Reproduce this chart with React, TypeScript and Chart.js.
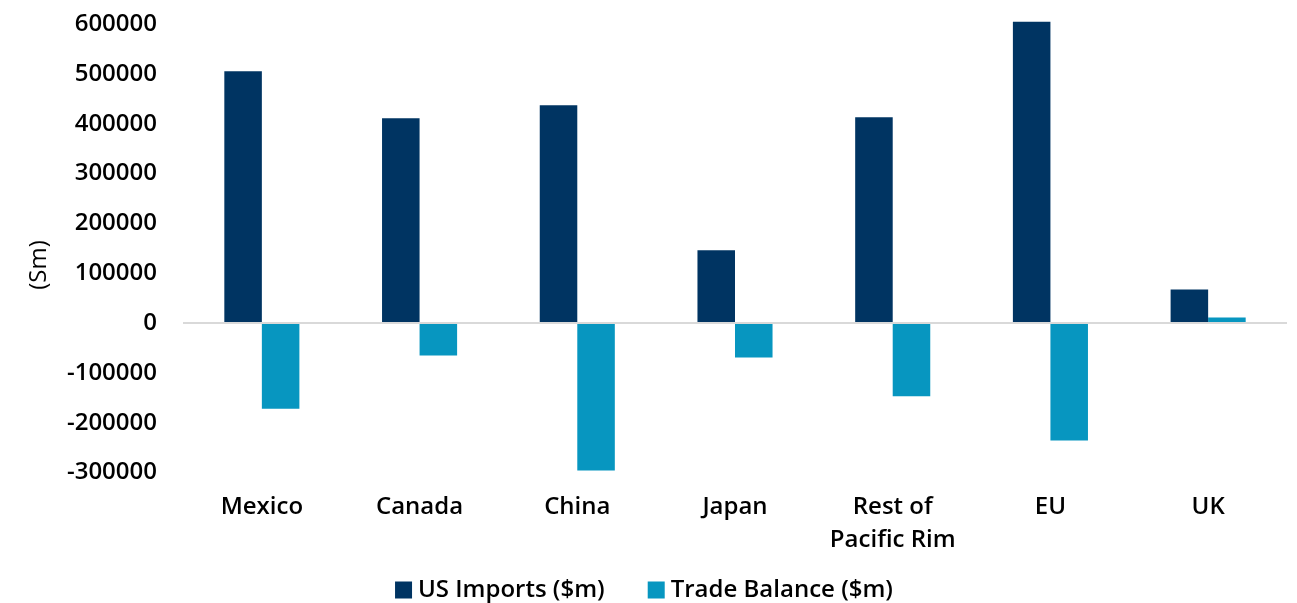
import React, { useEffect, useRef } from "react";
import { Chart, registerables } from "chart.js";

Chart.register(...registerables);

const categories: (string | string[])[] = ["Mexico", "Canada", "China", "Japan", ["Rest of", "Pacific Rim"], "EU", "UK"];
const usImports = [505000, 411000, 437000, 146000, 413000, 604500, 67000];
const tradeBalance = [-172000, -65000, -296000, -69000, -147000, -236000, 11000];
const seriesNames = ["US Imports ($m)", "Trade Balance ($m)"];
const seriesColors = ["#003462", "#0796c0"];
const yTitle = "(Sm)";

const FONT = "'Open Sans', sans-serif";

const customText = {
  id: "customText",
  afterDraw(chart: any) {
    const ctx = chart.ctx as CanvasRenderingContext2D;
    ctx.save();
    // y axis title
    ctx.font = `400 24px ${FONT}`;
    ctx.fillStyle = "#000";
    ctx.textAlign = "center";
    ctx.textBaseline = "middle";
    ctx.translate(39, 265);
    ctx.rotate(-Math.PI / 2);
    ctx.fillText(yTitle, 0, 0);
    ctx.restore();

    // legend
    ctx.save();
    ctx.font = `600 24px ${FONT}`;
    ctx.textBaseline = "middle";
    ctx.textAlign = "left";
    const box = 17, gap = 6, spacing = 43;
    const items = chart.data.datasets.map((d: any) => ({ text: d.label, color: d.backgroundColor, w: ctx.measureText(d.label).width }));
    const total = items.reduce((s: number, it: any) => s + box + gap + it.w, 0) + spacing * (items.length - 1);
    let x = 644 - total / 2;
    const cy = 590;
    items.forEach((it: any) => {
      ctx.fillStyle = it.color;
      ctx.fillRect(x, cy - box / 2, box, box);
      ctx.fillStyle = "#000";
      ctx.fillText(it.text, x + box + gap, cy);
      x += box + gap + it.w + spacing;
    });
    ctx.restore();
  },
};

export default function App() {
  const ref = useRef<HTMLCanvasElement | null>(null);
  useEffect(() => {
    document.body.style.margin = "0";
    const chart = new Chart(ref.current as HTMLCanvasElement, {
      type: "bar",
      data: {
        labels: categories,
        datasets: [
          { label: seriesNames[0], data: usImports, backgroundColor: seriesColors[0], clip: false as any },
          { label: seriesNames[1], data: tradeBalance, backgroundColor: seriesColors[1], clip: false as any },
        ],
      },
      options: {
        animation: false,
        responsive: false,
        maintainAspectRatio: false,
        layout: { padding: { top: 24, right: 10, left: 0, bottom: 48 } },
        datasets: { bar: { categoryPercentage: 0.476, barPercentage: 1 } },
        plugins: {
          legend: { display: false },
          tooltip: { enabled: false },
        },
        scales: {
          x: {
            grid: { display: false },
            border: { display: false },
            ticks: {
              color: "#000",
              font: { family: FONT, size: 24, weight: 600 as any, lineHeight: 1.375 },
              padding: 10,
              maxRotation: 0,
            },
            afterFit: (s: any) => { s.height = 82.5; s.paddingLeft = 0; s.paddingRight = 0; },
          },
          y: {
            min: -300000,
            max: 600000,
            grid: {
              drawTicks: false,
              color: (c: any) => (c.tick && c.tick.value === 0 ? "#d9d9d9" : "rgba(0,0,0,0)"),
              lineWidth: 2,
            },
            border: { display: false },
            ticks: {
              stepSize: 100000,
              color: "#000",
              padding: 26,
              font: { family: FONT, size: 24, weight: 600 as any },
              callback: (v: any) => String(v),
            },
            afterFit: (s: any) => { s.width = 183; s.paddingTop = 0; s.paddingBottom = 0; },
          },
        },
      },
      plugins: [customText],
    });
    return () => chart.destroy();
  }, []);
  return (
    <div style={{ position: "fixed", left: 0, top: 0, width: 1297, height: 603, background: "#fff" }}>
      <canvas ref={ref} width={1297} height={603} style={{ width: 1297, height: 603 }} />
    </div>
  );
}
